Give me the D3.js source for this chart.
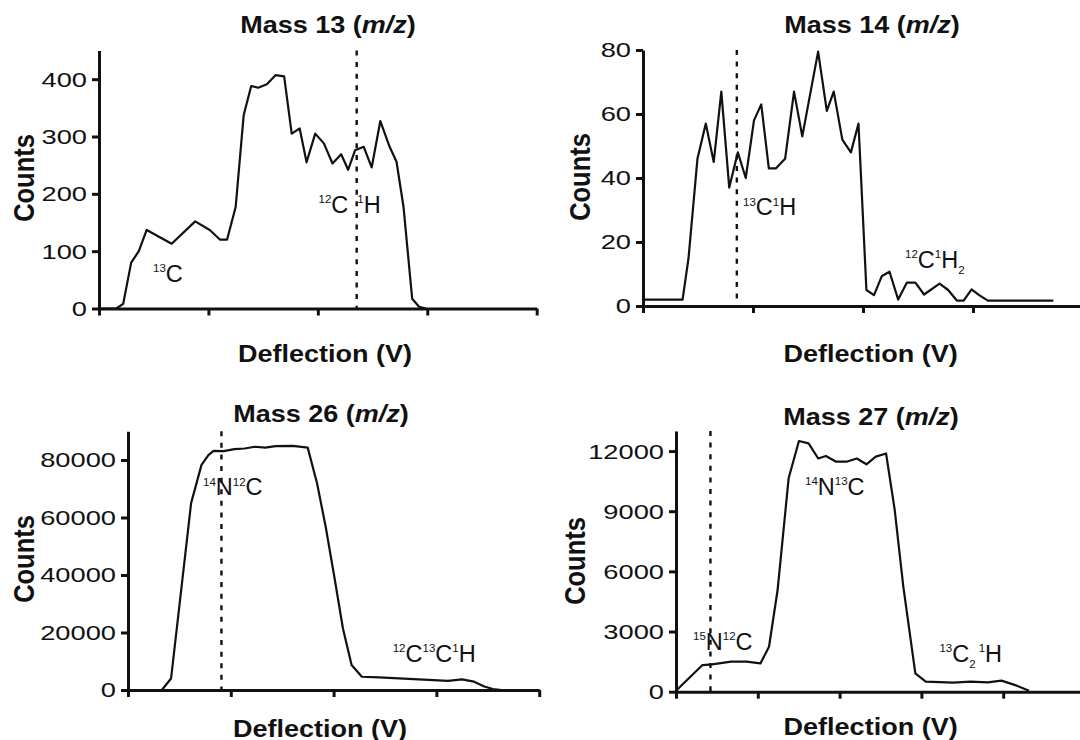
<!DOCTYPE html>
<html>
<head>
<meta charset="utf-8">
<script src="https://cdn.jsdelivr.net/npm/d3@7"></script>
<style>
  html, body { margin: 0; padding: 0; background: #fff; }
  svg { display: block; }
</style>
</head>
<body>
<svg id="chart" width="1080" height="740"></svg>
<script>
// ---- Mass 13 (m/z) scan: deflection (arbitrary tick units) vs counts ----
const mass13Deflection = [0, 0.158, 0.221, 0.294, 0.364, 0.436, 0.664, 0.879, 1.012, 1.107, 1.170, 1.249,
  1.322, 1.391, 1.455, 1.534, 1.613, 1.692, 1.761, 1.834, 1.897, 1.976, 2.055, 2.134, 2.213, 2.277,
  2.340, 2.419, 2.492, 2.571, 2.656, 2.719, 2.783, 2.862, 2.925, 2.988];
const mass13Counts = [0, 0, 8, 80, 100, 137, 113, 152, 137, 120, 120, 177,
  337, 388, 385, 391, 407, 405, 305, 314, 255, 305, 288, 253, 269, 242,
  276, 282, 246, 327, 282, 256, 177, 17, 3, 0];
const mass13YTicks = [0, 100, 200, 300, 400];
const mass13XTicks = [0, 1, 2, 3, 4];

// ---- Mass 14 (m/z) scan ----
const mass14Deflection = [0, 0.36, 0.414, 0.495, 0.571, 0.643, 0.712, 0.784, 0.862, 0.934, 1.009, 1.075,
  1.144, 1.207, 1.292, 1.373, 1.448, 1.592, 1.671, 1.734, 1.812, 1.890, 1.959, 2.031, 2.100, 2.172,
  2.241, 2.320, 2.398, 2.476, 2.555, 2.696, 2.774, 2.853, 2.915, 2.987, 3.056, 3.135, 3.730];
const mass14Counts = [2, 2, 15, 46, 57, 45, 67, 37, 48, 40, 58, 63,
  43, 43, 46, 67, 53, 79.5, 61, 67, 52, 48, 57, 5, 3.4, 9.4,
  10.7, 2, 7.3, 7.3, 3.6, 7, 5, 1.7, 1.7, 5.2, 3.4, 1.7, 1.7];
const mass14YTicks = [0, 20, 40, 60, 80];
const mass14XTicks = [0, 1, 2, 3, 4];

// ---- Mass 26 (m/z) scan ----
const mass26Deflection = [0.329, 0.419, 0.614, 0.715, 0.782, 0.832, 0.933, 1.034, 1.134, 1.235, 1.336,
  1.436, 1.604, 1.748, 1.839, 1.923, 2.007, 2.091, 2.175, 2.275, 2.443, 2.779, 3.114, 3.248, 3.366,
  3.466, 3.550, 3.634];
const mass26Counts = [0, 4000, 65000, 78300, 81700, 83200, 83100, 83800, 84000, 84600, 84300,
  84800, 84900, 84300, 71900, 56800, 39400, 21400, 8700, 4600, 4400, 3800, 3200, 3700, 2900,
  1200, 350, 0];
const mass26YTicks = [0, 20000, 40000, 60000, 80000];
const mass26XTicks = [0, 1, 2, 3, 4];

// ---- Mass 27 (m/z) scan ----
const mass27Deflection = [0, 0.324, 0.442, 0.674, 0.863, 1.032, 1.137, 1.242, 1.377, 1.503, 1.621,
  1.739, 1.832, 1.958, 2.084, 2.211, 2.328, 2.442, 2.568, 2.674, 2.779, 2.926, 3.053, 3.389, 3.600,
  3.811, 3.979, 4.147, 4.316];
const mass27Counts = [50, 1330, 1360, 1500, 1500, 1410, 2240, 5070, 10640, 12500, 12380,
  11630, 11750, 11470, 11470, 11630, 11340, 11720, 11880, 9060, 5240, 910, 500, 450, 500,
  465, 550, 330, 50];
const mass27YTicks = [0, 3000, 6000, 9000, 12000];
const mass27XTicks = [0, 1, 2, 3, 4, 5];

// Deflection setting marked by the dotted line in each scan
const markerDeflection = [2.355, 0.853, 0.909, 0.421];

// Panel titles and axis titles
const panelMasses = ["13", "14", "26", "27"];
const xAxisTitle = "Deflection (V)";
const yAxisTitle = "Counts";

// Species labels: s = "sup" / "sub" for isotope and atom-count indices
const mass13Species = [
  [{ t: "13", s: "sup" }, { t: "C" }],
  [{ t: "12", s: "sup" }, { t: "C" }, { t: "1", s: "sup", gap: 9 }, { t: "H" }]
];
const mass14Species = [
  [{ t: "13", s: "sup" }, { t: "C" }, { t: "1", s: "sup" }, { t: "H" }],
  [{ t: "12", s: "sup" }, { t: "C" }, { t: "1", s: "sup" }, { t: "H" }, { t: "2", s: "sub" }]
];
const mass26Species = [
  [{ t: "14", s: "sup" }, { t: "N" }, { t: "12", s: "sup" }, { t: "C" }],
  [{ t: "12", s: "sup" }, { t: "C" }, { t: "13", s: "sup" }, { t: "C" }, { t: "1", s: "sup" }, { t: "H" }]
];
const mass27Species = [
  [{ t: "14", s: "sup" }, { t: "N" }, { t: "13", s: "sup" }, { t: "C" }],
  [{ t: "15", s: "sup" }, { t: "N" }, { t: "12", s: "sup" }, { t: "C" }],
  [{ t: "13", s: "sup" }, { t: "C" }, { t: "2", s: "sub" }, { t: "1", s: "sup", gap: 3 }, { t: "H" }]
];

// ------------------------------------------------------------------
const FONT = "'Liberation Sans', Arial, Helvetica, sans-serif";
const INK = "#111";
const svg = d3.select("#chart");
svg.append("rect").attr("width", 1080).attr("height", 740).attr("fill", "#fff");

function drawSpecies(g, parts, px, py) {
  const t = g.append("text")
    .attr("x", px).attr("y", py)
    .attr("font-family", FONT).attr("font-size", 23.5).attr("fill", INK);
  let shift = 0;
  parts.forEach(p => {
    const target = p.s === "sup" ? -9.5 : p.s === "sub" ? 6.5 : 0;
    const ts = t.append("tspan")
      .attr("dy", target - shift)
      .attr("font-size", p.s ? 11.5 : 23.5)
      .text(p.t);
    if (p.gap) ts.attr("dx", p.gap);
    shift = target;
  });
}

function drawPanel(p) {
  const x = d3.scaleLinear().domain([0, p.xMax]).range([p.left, p.right]);
  const y = d3.scaleLinear().domain([0, p.yMax]).range([p.bottom, p.top]);
  const g = svg.append("g");

  // dotted marker
  g.append("line")
    .attr("x1", x(p.marker)).attr("x2", x(p.marker))
    .attr("y1", y(p.yMax)).attr("y2", y(0))
    .attr("stroke", INK).attr("stroke-width", 2.4)
    .attr("stroke-dasharray", "5,6.6");

  // scan trace
  const pts = p.xs.map((d, i) => [d, p.ys[i]]);
  g.append("path").datum(pts)
    .attr("d", d3.line().x(d => x(d[0])).y(d => y(d[1])))
    .attr("fill", "none").attr("stroke", INK)
    .attr("stroke-width", 2.2).attr("stroke-linejoin", "round");

  // axes
  const yAxis = d3.axisLeft(y).tickValues(p.yTicks).tickSize(7).tickSizeOuter(0)
    .tickPadding(5).tickFormat(d3.format("d"));
  const ya = g.append("g").attr("transform", `translate(${p.left},0)`).call(yAxis);
  ya.selectAll(".tick text")
    .attr("x", 0).attr("dy", "0.34em")
    .attr("transform", `translate(-12,0) scale(1.33,1)`)
    .attr("font-family", FONT).attr("font-size", 20.5).attr("fill", INK);

  const xAxis = d3.axisBottom(x).tickValues(p.xTicks).tickSize(7).tickSizeOuter(0).tickFormat("");
  const xa = g.append("g").attr("transform", `translate(0,${p.bottom})`).call(xAxis);

  [ya, xa].forEach(a => {
    a.select(".domain").attr("stroke", INK).attr("stroke-width", 3);
    a.selectAll(".tick line").attr("stroke", INK).attr("stroke-width", 3);
  });

  // panel title
  const title = g.append("text")
    .attr("transform", `translate(${p.titleX},${p.titleY}) scale(1.15,1)`)
    .attr("text-anchor", "middle")
    .attr("font-family", FONT).attr("font-weight", "bold").attr("font-size", 23.5).attr("fill", INK);
  title.append("tspan").text(`Mass ${p.mass} (`);
  title.append("tspan").attr("font-style", "italic").text("m/z");
  title.append("tspan").text(")");

  // axis titles
  g.append("text")
    .attr("transform", `translate(${p.xLabelX},${p.xLabelY}) scale(1.15,1)`)
    .attr("text-anchor", "middle")
    .attr("font-family", FONT).attr("font-weight", "bold").attr("font-size", 23.5).attr("fill", INK)
    .text(xAxisTitle);
  g.append("text")
    .attr("transform", `translate(${p.yLabelX},${p.yLabelY}) rotate(-90) scale(1,1.13)`)
    .attr("text-anchor", "middle")
    .attr("font-family", FONT).attr("font-weight", "bold").attr("font-size", 25.5).attr("fill", INK)
    .text(yAxisTitle);

  // species labels, anchored in data coordinates
  p.species.forEach((parts, i) => {
    const a = p.speciesAt[i];
    drawSpecies(g, parts, x(a[0]), y(a[1]));
  });
}

drawPanel({
  mass: panelMasses[0], xs: mass13Deflection, ys: mass13Counts,
  xTicks: mass13XTicks, yTicks: mass13YTicks, xMax: 4, yMax: 450,
  left: 99, right: 536.7, bottom: 308.5, top: 50.5,
  marker: markerDeflection[0],
  titleX: 328, titleY: 33, xLabelX: 325, xLabelY: 361.5, yLabelX: 34, yLabelY: 178,
  species: mass13Species, speciesAt: [[0.494, 46.7], [2.006, 167]]
});

drawPanel({
  mass: panelMasses[1], xs: mass14Deflection, ys: mass14Counts,
  xTicks: mass14XTicks, yTicks: mass14YTicks, xMax: 4, yMax: 80,
  left: 643, right: 1083, bottom: 306, top: 50,
  marker: markerDeflection[1],
  titleX: 872, titleY: 33, xLabelX: 870.6, xLabelY: 361.5, yLabelX: 590, yLabelY: 177,
  species: mass14Species, speciesAt: [[0.909, 28.4], [2.382, 11.9]]
});

drawPanel({
  mass: panelMasses[2], xs: mass26Deflection, ys: mass26Counts,
  xTicks: mass26XTicks, yTicks: mass26YTicks, xMax: 4, yMax: 90000,
  left: 128, right: 539.2, bottom: 690, top: 431.25,
  marker: markerDeflection[2],
  titleX: 321, titleY: 421.5, xLabelX: 320, xLabelY: 736.5, yLabelX: 34, yLabelY: 559,
  species: mass26Species, speciesAt: [[0.730, 67826], [2.575, 9843]]
});

drawPanel({
  mass: panelMasses[3], xs: mass27Deflection, ys: mass27Counts,
  xTicks: mass27XTicks, yTicks: mass27YTicks, xMax: 5, yMax: 13000,
  left: 676, right: 1085, bottom: 691.7, top: 431,
  marker: markerDeflection[3],
  titleX: 871, titleY: 425, xLabelX: 870.6, xLabelY: 735, yLabelX: 585, yLabelY: 561,
  species: mass27Species, speciesAt: [[1.577, 9810], [0.208, 2080], [3.221, 1496]]
});
</script>
</body>
</html>
